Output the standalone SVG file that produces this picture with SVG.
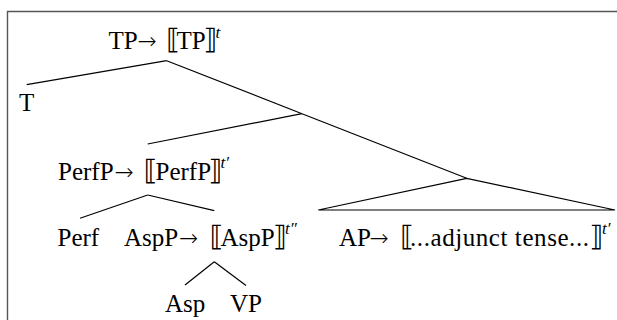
<svg xmlns="http://www.w3.org/2000/svg" width="617" height="320" viewBox="0 0 617 320">
<style>
.t{font-family:"Liberation Serif","Times New Roman",serif;font-size:25px;fill:#000}
.ar{font-family:"DejaVu Sans",sans-serif;font-weight:200;font-size:23px}
.br{font-family:"DejaVu Serif","DejaVu Sans",serif;font-size:28px}
.sup{font-family:"Liberation Serif","Times New Roman",serif;font-style:italic;font-size:17px}
.e{stroke:#000;stroke-width:1.2;fill:none}
</style>
<rect x="0" y="0" width="617" height="320" fill="#fff"/>
<path d="M7.5,330 V11.5 H640" fill="none" stroke="#555" stroke-width="1.4"/>
<g id="connectors">
<line class="e" x1="166.7" y1="60.7" x2="26.7" y2="84.7"/>
<line class="e" x1="166.7" y1="60.7" x2="302" y2="113.7"/>
<line class="e" x1="302" y1="113.7" x2="466.7" y2="178.3"/>
<line class="e" x1="302" y1="113.7" x2="147.7" y2="144"/>
<line class="e" x1="147.7" y1="195" x2="80" y2="218.3"/>
<line class="e" x1="147.7" y1="195" x2="214.3" y2="210.7"/>
<line class="e" x1="214.3" y1="261.7" x2="185" y2="285"/>
<line class="e" x1="214.3" y1="261.7" x2="246" y2="285.5"/>
<polygon class="e" points="466.7,178.3 318.3,210 615,210"/>
</g>
<g id="TP">
<text class="t" y="48.5"><tspan x="108.5">TP</tspan><tspan class="ar" x="137.5">→</tspan><tspan class="br" x="166">⟦</tspan><tspan x="176.5">TP</tspan><tspan class="br" x="203.5">⟧</tspan><tspan class="sup" x="215.5" y="37.5">t</tspan></text>
</g>
<g id="T">
<text class="t" x="19" y="110.5">T</text>
</g>
<g id="PerfP">
<text class="t" y="179.5"><tspan x="58">PerfP</tspan><tspan class="ar" x="114.5">→</tspan><tspan class="br" x="143.5">⟦</tspan><tspan x="155.5">PerfP</tspan><tspan class="br" x="208.5">⟧</tspan><tspan class="sup" x="220.5" y="168">t′</tspan></text>
</g>
<g id="Perf">
<text class="t" x="57.5" y="245.5">Perf</text>
</g>
<g id="AspP">
<text class="t" y="245.5"><tspan x="124">AspP</tspan><tspan class="ar" x="179">→</tspan><tspan class="br" x="209.5">⟦</tspan><tspan x="220.5">AspP</tspan><tspan class="br" x="273">⟧</tspan><tspan class="sup" x="285" y="234">t″</tspan></text>
</g>
<g id="AP">
<text class="t" y="245.5"><tspan x="339">AP</tspan><tspan class="ar" x="369.5">→</tspan><tspan class="br" x="400">⟦</tspan><tspan x="410" textLength="179" lengthAdjust="spacing">...adjunct tense...</tspan><tspan class="br" x="589.5">⟧</tspan><tspan class="sup" x="602" y="234">t′</tspan></text>
</g>
<g id="Asp">
<text class="t" x="165" y="312">Asp</text>
</g>
<g id="VP">
<text class="t" x="230" y="312">VP</text>
</g>
</svg>
